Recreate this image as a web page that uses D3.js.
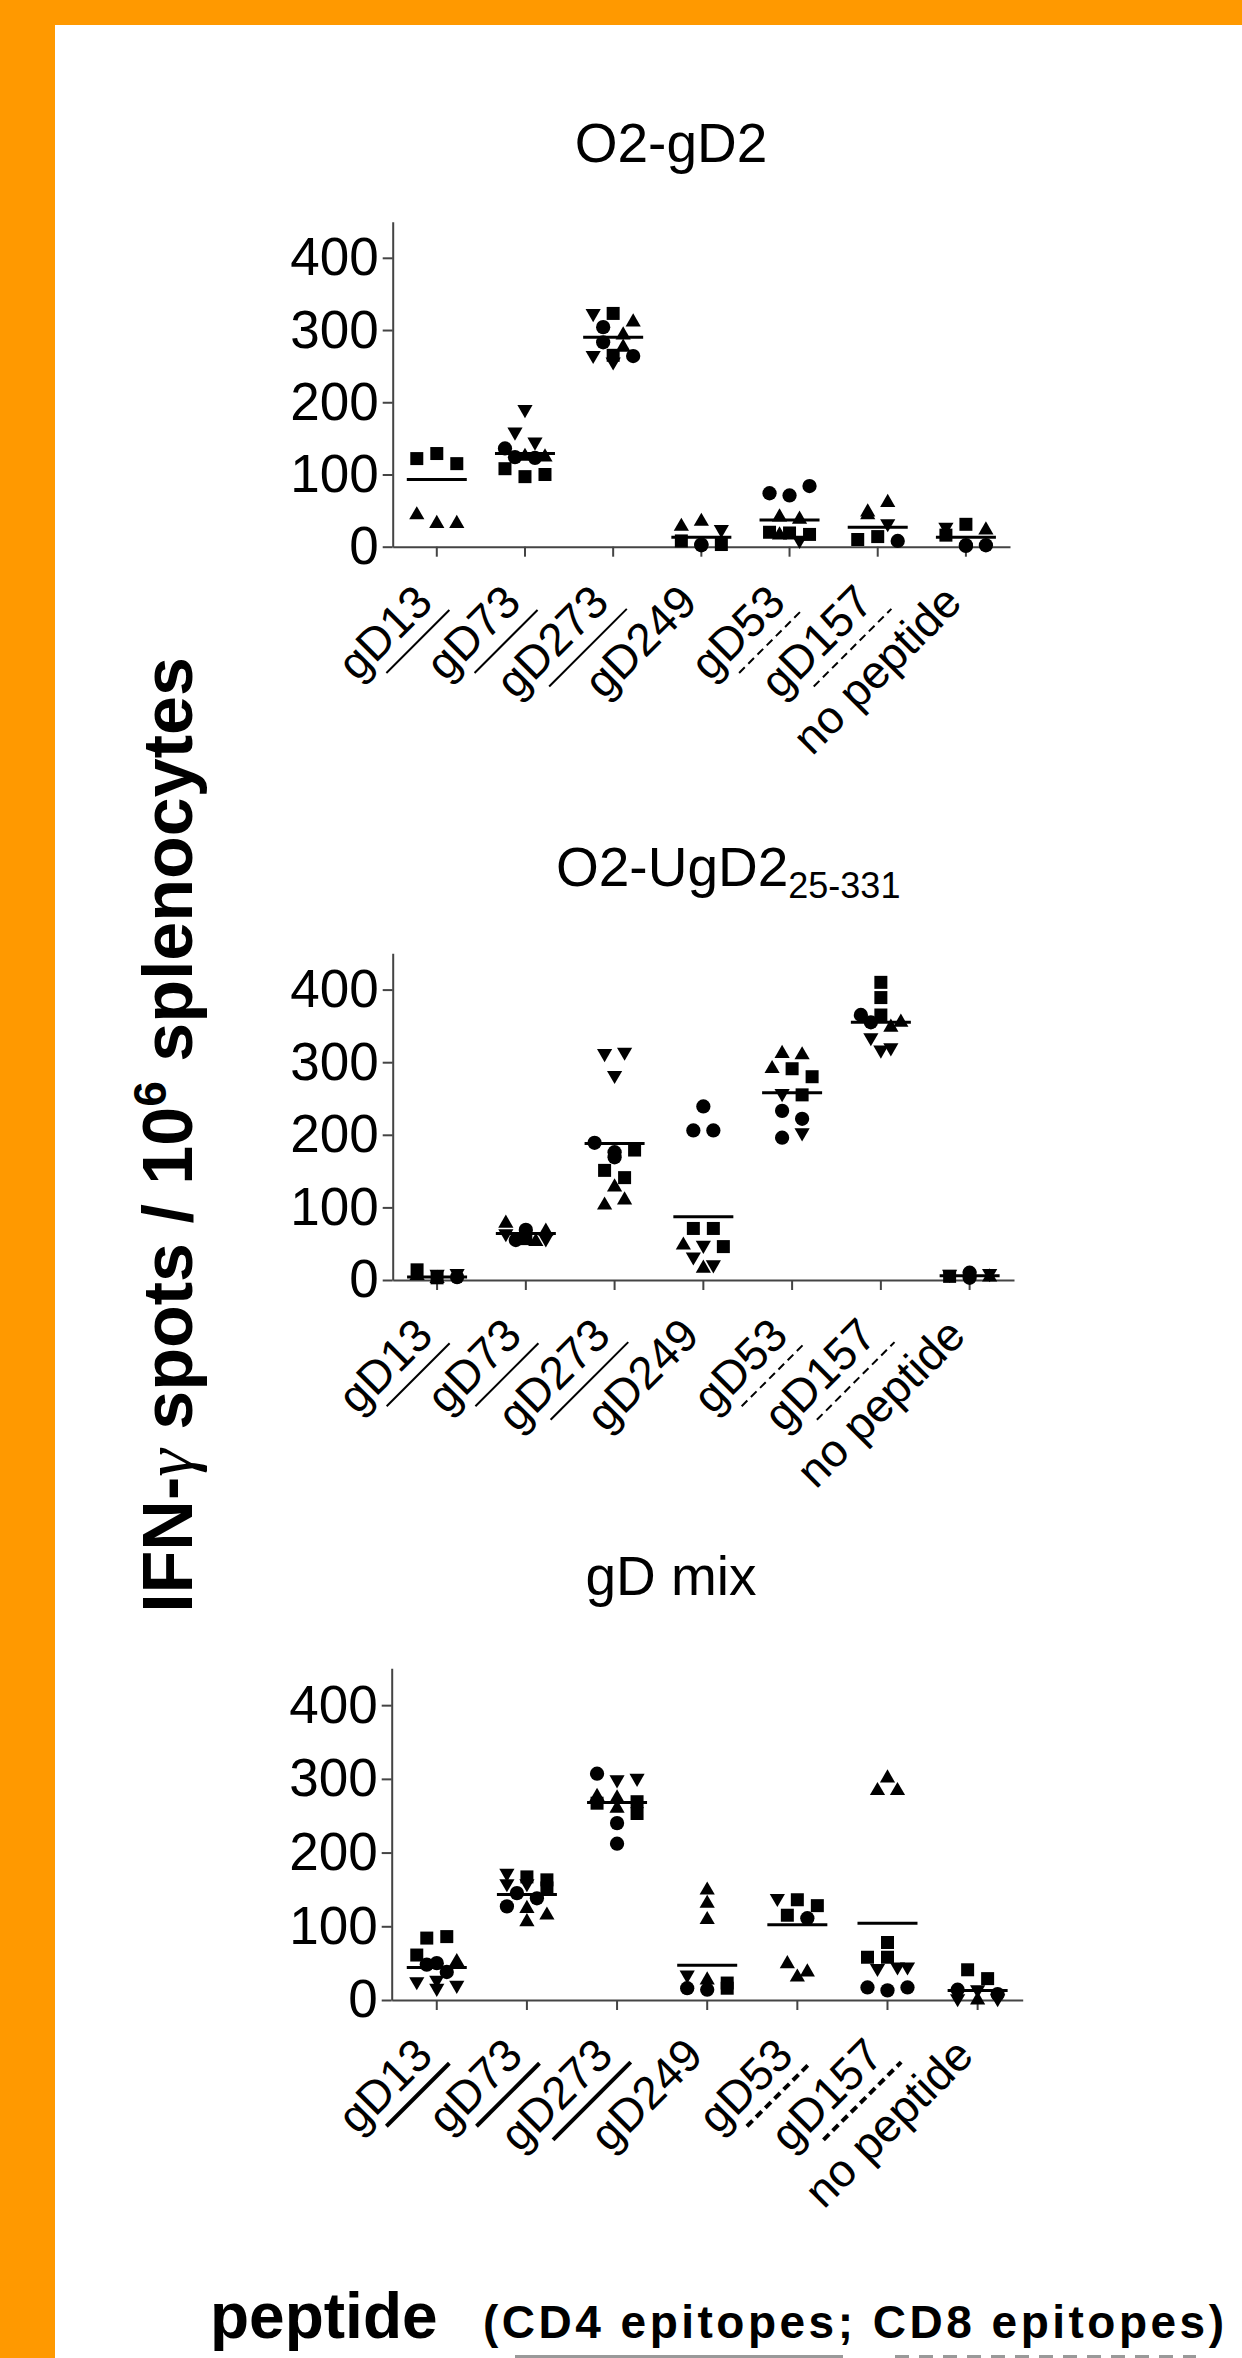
<!DOCTYPE html>
<html>
<head>
<meta charset="utf-8">
<script src="https://cdn.jsdelivr.net/npm/d3@7"></script>
<style>
  html, body { margin: 0; padding: 0; background: #fff; }
  svg { display: block; }
</style>
</head>
<body>
<div id="chart-wrapper"></div>
<script>
// ---- data ----
const categories = ["gD13", "gD73", "gD273", "gD249", "gD53", "gD157", "no peptide"];
// which epitope class each peptide belongs to (drives the underline under the label)
const epitopeClass = ["CD4", "CD4", "CD4", "", "CD8", "CD8", ""];
const yTicks = [0, 100, 200, 300, 400];
const yMax = 450;

const panelTitles = ["O2-gD2", "O2-UgD2", "gD mix"];
const panelSubscripts = ["", "25-331", ""];

// s = square, t = triangle up, v = triangle down, c = circle
// [category index, shape, spots]
const o2gD2Points = [
  [0, "s", 122], [0, "s", 129], [0, "s", 115], [0, "t", 44], [0, "t", 32], [0, "t", 32],
  [1, "v", 190], [1, "v", 159], [1, "v", 145], [1, "c", 136], [1, "t", 125], [1, "t", 124],
  [1, "c", 124], [1, "c", 123], [1, "s", 108], [1, "s", 97], [1, "s", 100],
  [2, "v", 323], [2, "s", 323], [2, "t", 311], [2, "c", 304], [2, "t", 293], [2, "c", 283],
  [2, "t", 276], [2, "v", 265], [2, "s", 265], [2, "c", 264], [2, "v", 256],
  [3, "t", 28], [3, "t", 35], [3, "v", 24], [3, "s", 8], [3, "c", 3], [3, "c", 2], [3, "s", 3],
  [4, "c", 74], [4, "c", 71], [4, "c", 84], [4, "t", 41], [4, "t", 38], [4, "t", 16],
  [4, "s", 20], [4, "s", 19], [4, "s", 17], [4, "v", 9],
  [5, "t", 48], [5, "t", 44], [5, "t", 61], [5, "v", 32], [5, "s", 10], [5, "s", 14], [5, "c", 8],
  [6, "v", 27], [6, "s", 31], [6, "t", 23], [6, "s", 16], [6, "c", 2], [6, "c", 1], [6, "c", 2]
];
const o2gD2Means = [93, 129, 290, 13, 37, 27, 13];

const o2UgD2Points = [
  [0, "s", 14], [0, "t", 6], [0, "v", 8], [0, "t", 2], [0, "v", 9], [0, "s", 3], [0, "c", 4],
  [1, "t", 78], [1, "c", 69], [1, "t", 67], [1, "v", 64], [1, "s", 57], [1, "c", 55],
  [1, "v", 57], [1, "t", 53],
  [2, "v", 312], [2, "v", 314], [2, "v", 282], [2, "c", 189], [2, "c", 176], [2, "s", 179],
  [2, "c", 169], [2, "s", 151], [2, "s", 141], [2, "t", 128], [2, "t", 103], [2, "t", 110],
  [3, "c", 239], [3, "c", 206], [3, "c", 206], [3, "s", 71], [3, "s", 71], [3, "t", 48],
  [3, "v", 48], [3, "s", 46], [3, "v", 32], [3, "t", 16], [3, "v", 21],
  [4, "t", 312], [4, "t", 310], [4, "t", 291], [4, "s", 291], [4, "s", 280], [4, "v", 257],
  [4, "s", 255], [4, "c", 233], [4, "c", 222], [4, "c", 196], [4, "v", 203],
  [5, "s", 410], [5, "s", 389], [5, "c", 365], [5, "s", 365], [5, "t", 355], [5, "c", 355],
  [5, "t", 348], [5, "v", 334], [5, "v", 317], [5, "v", 320],
  [6, "v", 8], [6, "s", 5], [6, "c", 10], [6, "c", 3], [6, "v", 9], [6, "t", 4]
];
const o2UgD2Means = [4, 64, 188, 87, 258, 355, 6];

const gDmixPoints = [
  [0, "s", 84], [0, "s", 86], [0, "s", 61], [0, "c", 50], [0, "t", 52], [0, "c", 48],
  [0, "c", 38], [0, "v", 25], [0, "v", 27], [0, "v", 20], [0, "v", 16],
  [1, "v", 172], [1, "s", 167], [1, "s", 163], [1, "v", 158], [1, "v", 158], [1, "s", 152],
  [1, "c", 145], [1, "c", 138], [1, "c", 127], [1, "t", 124], [1, "t", 115], [1, "t", 106],
  [2, "c", 307], [2, "v", 299], [2, "v", 301], [2, "t", 276], [2, "t", 274], [2, "s", 269],
  [2, "s", 267], [2, "t", 260], [2, "s", 253], [2, "c", 240], [2, "c", 212],
  [3, "t", 149], [3, "t", 131], [3, "t", 109], [3, "v", 34], [3, "t", 27], [3, "s", 23],
  [3, "c", 16], [3, "c", 14], [3, "s", 16],
  [4, "v", 138], [4, "s", 136], [4, "s", 128], [4, "s", 115], [4, "c", 111], [4, "t", 49],
  [4, "t", 31], [4, "t", 38],
  [5, "t", 284], [5, "t", 284], [5, "t", 301], [5, "s", 78], [5, "s", 58], [5, "s", 58],
  [5, "v", 45], [5, "v", 43], [5, "v", 45], [5, "c", 17], [5, "c", 13], [5, "c", 17],
  [6, "s", 41], [6, "s", 29], [6, "c", 14], [6, "v", 14], [6, "c", 8], [6, "v", 2],
  [6, "t", 0], [6, "v", 2]
];
const gDmixMeans = [44, 143, 268, 47, 102, 104, 13];

// ---- layout ----
const W = 1242, H = 2358;
const FONT = "'Liberation Sans', Arial, Helvetica, sans-serif";
const ORANGE = "#ff9900";

const panels = [
  { points: o2gD2Points, means: o2gD2Means, left: 392.7, right: 1010, top: 221.7, bottom: 546.7,
    titleX: 671, titleY: 162, ulWidth: 2 },
  { points: o2UgD2Points, means: o2UgD2Means, left: 392.7, right: 1014, top: 953.3, bottom: 1280,
    titleX: 556, titleY: 886, ulWidth: 2 },
  { points: gDmixPoints, means: gDmixMeans, left: 391.7, right: 1022.7, top: 1668.3, bottom: 2000,
    titleX: 671, titleY: 1595, ulWidth: 4 }
];

const symbolTypes = { s: d3.symbolSquare, t: d3.symbolTriangle, v: d3.symbolTriangle, c: d3.symbolCircle };
const symbolSizes = { s: 169, t: 100, v: 100, c: 160 };
const slotPx = 20;

// spread points with nearly equal values side by side, like a column scatter
const dodge = (pts, y) => {
  const sorted = pts.slice().sort((a, b) => b.value - a.value || a.idx - b.idx);
  const rows = [];
  let cur = null;
  sorted.forEach(p => {
    if (cur && cur.length < 3 && Math.abs(y(cur[0].value) - y(p.value)) <= 11) cur.push(p);
    else { cur = [p]; rows.push(cur); }
  });
  rows.forEach(r => {
    r.sort((a, b) => a.idx - b.idx);
    r.forEach((p, i) => { p.slot = i - (r.length - 1) / 2; });
  });
};

const svg = d3.select("#chart-wrapper").append("svg")
  .attr("width", W).attr("height", H)
  .style("font-family", FONT);

svg.append("rect").attr("width", W).attr("height", H).attr("fill", "#fff");
svg.append("rect").attr("x", 0).attr("y", 0).attr("width", W).attr("height", 25).attr("fill", ORANGE);
svg.append("rect").attr("x", 0).attr("y", 0).attr("width", 55).attr("height", H).attr("fill", ORANGE);

panels.forEach((pn, pi) => {
  const g = svg.append("g");

  const x = d3.scaleBand().domain(categories).range([pn.left, pn.right]).padding(0);
  const y = d3.scaleLinear().domain([0, yMax]).range([pn.bottom, pn.top]);

  // title
  const title = g.append("text")
    .attr("x", pn.titleX).attr("y", pn.titleY)
    .attr("text-anchor", panelSubscripts[pi] ? "start" : "middle")
    .attr("font-size", 55)
    .text(panelTitles[pi]);
  if (panelSubscripts[pi]) {
    title.append("tspan").attr("font-size", 36).attr("dy", 12).text(panelSubscripts[pi]);
  }

  // axes
  const yAxis = g.append("g")
    .attr("transform", `translate(${pn.left},0)`)
    .call(d3.axisLeft(y).tickValues(yTicks).tickSize(10).tickSizeOuter(0).tickPadding(4));
  yAxis.selectAll("text").attr("font-size", 53).attr("font-family", FONT).attr("fill", "#000");

  const xAxis = g.append("g")
    .attr("transform", `translate(0,${pn.bottom})`)
    .call(d3.axisBottom(x).tickSize(10).tickSizeOuter(0).tickFormat(""));

  [yAxis, xAxis].forEach(a => {
    a.select(".domain").attr("stroke", "#444").attr("stroke-width", 2);
    a.selectAll(".tick line").attr("stroke", "#444").attr("stroke-width", 2);
  });

  // rotated category labels with epitope underlines
  categories.forEach((cat, ci) => {
    const cx = x(cat) + x.bandwidth() / 2;
    const lg = g.append("g")
      .attr("transform", `translate(${cx - 2},${pn.bottom + 58}) rotate(-45)`);
    const t = lg.append("text")
      .attr("text-anchor", "end")
      .attr("font-size", 46)
      .text(cat);
    if (epitopeClass[ci]) {
      const L = t.node().getComputedTextLength();
      lg.append("line")
        .attr("x1", -0.75 * L).attr("x2", 0.06 * L)
        .attr("y1", 14).attr("y2", 14)
        .attr("stroke", "#000")
        .attr("stroke-width", pn.ulWidth)
        .attr("stroke-dasharray", epitopeClass[ci] === "CD8" ? "8,5" : null);
    }
  });

  // points
  const pts = pn.points.map((d, i) => ({ cat: d[0], shape: d[1], value: d[2], idx: i }));
  d3.groups(pts, d => d.cat).forEach(([, arr]) => dodge(arr, y));

  g.append("g").selectAll("path")
    .data(pts)
    .enter()
    .append("path")
    .attr("d", d => d3.symbol().type(symbolTypes[d.shape]).size(symbolSizes[d.shape])())
    .attr("transform", d => {
      const px = x(categories[d.cat]) + x.bandwidth() / 2 + d.slot * slotPx;
      return `translate(${px},${y(d.value)})` + (d.shape === "v" ? " rotate(180)" : "");
    })
    .attr("fill", "#000");

  // mean lines
  g.append("g").selectAll("line")
    .data(pn.means)
    .enter()
    .append("line")
    .attr("x1", (d, i) => x(categories[i]) + x.bandwidth() / 2 - 30)
    .attr("x2", (d, i) => x(categories[i]) + x.bandwidth() / 2 + 30)
    .attr("y1", d => y(d)).attr("y2", d => y(d))
    .attr("stroke", "#000").attr("stroke-width", 3);
});

// y axis title (gamma drawn from a serif face, as in the figure)
const yTitle = svg.append("text")
  .attr("transform", "translate(192,1135) rotate(-90)")
  .attr("text-anchor", "middle")
  .attr("font-size", 70)
  .attr("font-weight", "bold");
yTitle.append("tspan").text("IFN-");
yTitle.append("tspan")
  .attr("font-family", "'Liberation Serif', 'DejaVu Serif', serif")
  .attr("font-weight", "normal")
  .attr("font-style", "italic")
  .text("\u03b3");
yTitle.append("tspan").text(" spots / 10");
yTitle.append("tspan").attr("font-size", 46).attr("dy", -26).text("6");
yTitle.append("tspan").attr("dy", 26).text(" splenocytes");

// x axis title
svg.append("text")
  .attr("x", 210).attr("y", 2338)
  .attr("font-size", 64).attr("font-weight", "bold")
  .text("peptide");
svg.append("text")
  .attr("x", 483).attr("y", 2338)
  .attr("font-size", 46).attr("font-weight", "bold")
  .attr("textLength", 741).attr("lengthAdjust", "spacing")
  .text("(CD4 epitopes; CD8 epitopes)");
svg.append("line")
  .attr("x1", 515).attr("x2", 843).attr("y1", 2356.5).attr("y2", 2356.5)
  .attr("stroke", "#999").attr("stroke-width", 3);
svg.append("line")
  .attr("x1", 895).attr("x2", 1196).attr("y1", 2356.5).attr("y2", 2356.5)
  .attr("stroke", "#999").attr("stroke-width", 3).attr("stroke-dasharray", "14,10");
</script>
</body>
</html>
